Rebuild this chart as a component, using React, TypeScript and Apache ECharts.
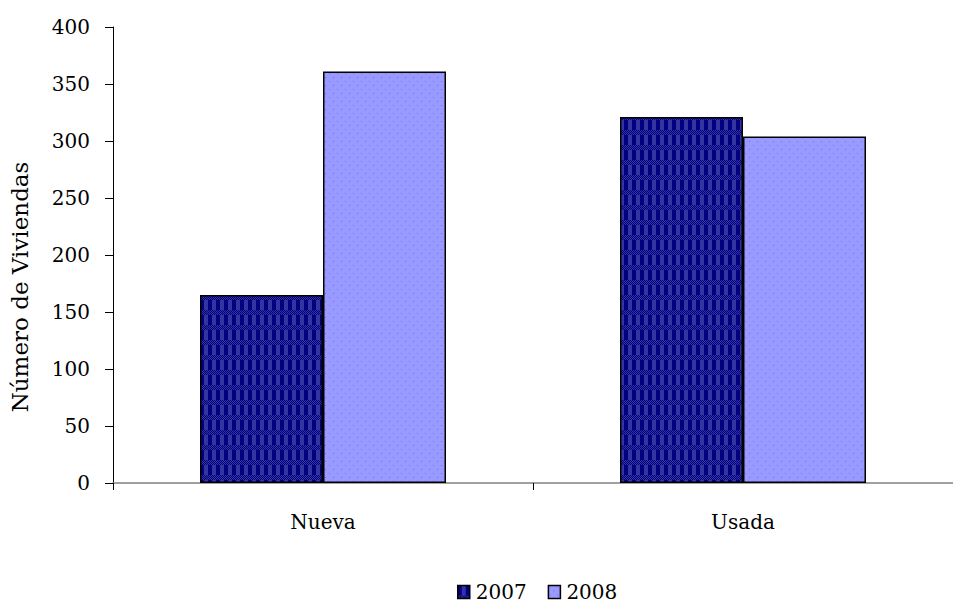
import React, { useEffect, useRef } from "react";
import * as echarts from "echarts";

const categories = ["Nueva", "Usada"];
const seriesNames = ["2007", "2008"];
const values2007 = [165, 321];
const values2008 = [361, 304];
const yTicks = { min: 0, max: 400, interval: 50 };
const yAxisTitle = "Número de Viviendas";

const FONT = "DejaVu Serif";

function makePattern2007(): HTMLCanvasElement {
  const c = document.createElement("canvas");
  c.width = 8;
  c.height = 15;
  const ctx = c.getContext("2d")!;
  const dark = "#000080";
  const light = "#34349f";
  for (let y = 0; y < 15; y++) {
    for (let x = 0; x < 8; x++) {
      let col: string;
      if (y < 10) {
        col = x < 4 ? dark : light;
      } else {
        col = (x + y) % 2 === 0 ? dark : light;
      }
      ctx.fillStyle = col;
      ctx.fillRect(x, y, 1, 1);
    }
  }
  return c;
}

function makePattern2008(): HTMLCanvasElement {
  const c = document.createElement("canvas");
  c.width = 8;
  c.height = 8;
  const ctx = c.getContext("2d")!;
  ctx.fillStyle = "#9999ff";
  ctx.fillRect(0, 0, 8, 8);
  ctx.fillStyle = "#5c74ff";
  ctx.fillRect(1, 1, 1, 1);
  ctx.fillRect(5, 5, 1, 1);
  return c;
}

export default function App() {
  const ref = useRef<HTMLDivElement>(null);
  useEffect(() => {
    if (!ref.current) return;
    const chart = echarts.init(ref.current, null, { renderer: "svg" });
    const p1 = makePattern2007();
    const p2 = makePattern2008();
    chart.setOption({
      animation: false,
      backgroundColor: "#ffffff",
      grid: { left: 113, top: 27, width: 852, height: 456, containLabel: false },
      legend: {
        data: seriesNames,
        top: 582,
        left: 457,
        padding: 0,
        itemWidth: 12,
        itemHeight: 13,
        itemGap: 21,
        icon: "rect",
        textStyle: {
          fontFamily: FONT,
          fontSize: 20,
          lineHeight: 19,
          color: "#000",
          padding: [0, 0, 0, 1],
        },
        itemStyle: { borderColor: "#000", borderWidth: 1.5 },
      },
      xAxis: {
        type: "category",
        data: categories,
        boundaryGap: true,
        axisLine: { show: true, lineStyle: { color: "#808080", width: 1.5 } },
        axisTick: { show: true, length: 7, lineStyle: { color: "#000" } },
        axisLabel: { fontFamily: FONT, fontSize: 20, color: "#000", margin: 29 },
      },
      yAxis: {
        type: "value",
        min: yTicks.min,
        max: yTicks.max,
        interval: yTicks.interval,
        splitLine: { show: false },
        axisLine: { show: true, lineStyle: { color: "#000", width: 1 } },
        axisTick: { show: true, length: 8, lineStyle: { color: "#000" } },
        axisLabel: { fontFamily: FONT, fontSize: 20, color: "#000", margin: 23 },
      },
      graphic: [
        {
          type: "text",
          x: 20,
          y: 287,
          rotation: Math.PI / 2,
          style: {
            text: yAxisTitle,
            fontFamily: FONT,
            fontSize: 23,
            fill: "#000",
            textAlign: "center",
            textVerticalAlign: "middle",
          },
        },
      ],
      series: [
        {
          name: seriesNames[0],
          type: "bar",
          data: values2007,
          barWidth: 123,
          barGap: "0%",
          itemStyle: {
            color: { image: p1, repeat: "repeat" },
            borderColor: "#000",
            borderWidth: 1.5,
          },
        },
        {
          name: seriesNames[1],
          type: "bar",
          data: values2008,
          barWidth: 123,
          barGap: "0%",
          itemStyle: {
            color: { image: p2, repeat: "repeat" },
            borderColor: "#000",
            borderWidth: 1.5,
          },
        },
      ],
    });
    return () => chart.dispose();
  }, []);
  return (
    <div
      ref={ref}
      style={{ position: "absolute", left: 0, top: 0, width: 953, height: 605 }}
    />
  );
}
